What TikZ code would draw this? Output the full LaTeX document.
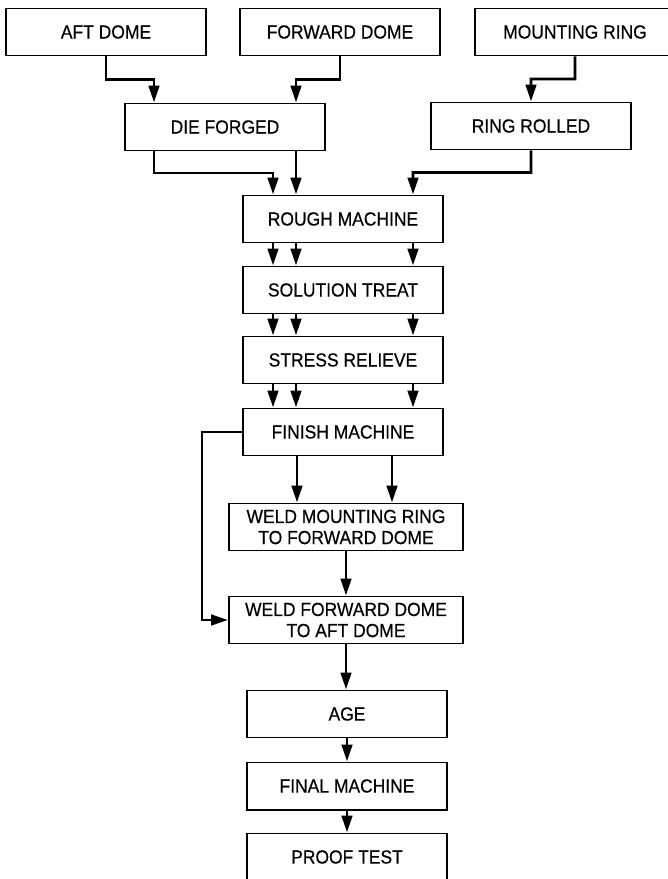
\documentclass[tikz,border=0pt]{standalone}
\usepackage{fontspec}
\setmainfont{Liberation Sans}[FakeStretch=0.92, FakeBold=0.4]
\usetikzlibrary{arrows.meta,calc}

\tikzset{
  procbox/.style={draw, line width=1.4pt, minimum width=5cm, minimum height=1.175cm,
    inner sep=0pt, align=center, font=\fontsize{13.5}{15}\selectfont},
  weldbox/.style={procbox, minimum width=5.85cm},
  flow/.style={line width=2.1pt, -{Triangle[length=4.2mm,width=2.6mm]}}
}

\begin{document}
\begin{tikzpicture}[x=0.025cm, y=-0.025cm]
    % Page frame (pixel units, y pointing down)
    \useasboundingbox (0,0) rectangle (667,879);

    % Raw stock
    \node[procbox] (aft)  at (106,32) {AFT DOME};
    \node[procbox] (fwd)  at (340,32) {FORWARD DOME};
    \node[procbox] (ring) at (575,32) {MOUNTING RING};

    % Forming
    \node[procbox] (forged) at (225,127) {DIE FORGED};
    \node[procbox] (rolled) at (531,126) {RING ROLLED};

    % Main column
    \foreach \nm/\yy/\txt in {rough/219/ROUGH MACHINE, solution/290/SOLUTION TREAT,
                              stress/360/STRESS RELIEVE, finish/432/FINISH MACHINE} {
        \node[procbox] (\nm) at (343,\yy) {\txt};
    }

    % Welding and finishing
    \node[weldbox] (weldring) at (346,527) {WELD MOUNTING RING\\TO FORWARD DOME};
    \node[weldbox] (welddome) at (346,620) {WELD FORWARD DOME\\TO AFT DOME};
    \node[procbox] (age)   at (347,714) {AGE};
    \node[procbox] (final) at (347,786) {FINAL MACHINE};
    \node[procbox] (proof) at (347,857) {PROOF TEST};

    % Stock into forming
    \draw[flow] (aft.south) -- ($(aft.south)!.5!(aft.south |- forged.north)$) -| ($(forged.north)+(-71,0)$);
    \draw[flow] (fwd.south) -- ($(fwd.south)!.5!(fwd.south |- forged.north)$) -| ($(forged.north)+(71,0)$);
    \draw[flow] (ring.south) -- ($(ring.south)!.5!(ring.south |- rolled.north)$) -| (rolled.north);

    % Forming into rough machine
    \draw[flow] ($(forged.south)+(-71,0)$) coordinate (fl)
        -- ($(fl)!.5!(fl |- rough.north)$) -| ($(rough.north)+(-70,0)$);
    \draw[flow] ($(forged.south)+(71,0)$) coordinate (fo) -- (fo |- rough.north);
    \draw[flow] (rolled.south) -- ($(rolled.south)!.5!(rolled.south |- rough.north)$) -| ($(rough.north)+(70,0)$);

    % Three parts down the main column
    \foreach \a/\b in {rough/solution, solution/stress, stress/finish} {
        \foreach \dx in {-70,-47,70} {
            \draw[flow] ($(\a.south)+(\dx,0)$) -- ($(\b.north)+(\dx,0)$);
        }
    }

    % Ring and forward dome to first weld
    \foreach \dx in {-46,49} {
        \draw[flow] ($(finish.south)+(\dx,0)$) coordinate (fs) -- (fs |- weldring.north);
    }

    % Aft dome around to second weld
    \draw[flow] (finish.west) -- ++(-40,0) |- (welddome.west);

    % Single part to the end
    \foreach \a/\b in {weldring/welddome, welddome/age, age/final, final/proof} {
        \draw[flow] (\a.south) -- (\a.south |- \b.north);
    }
\end{tikzpicture}
\end{document}
